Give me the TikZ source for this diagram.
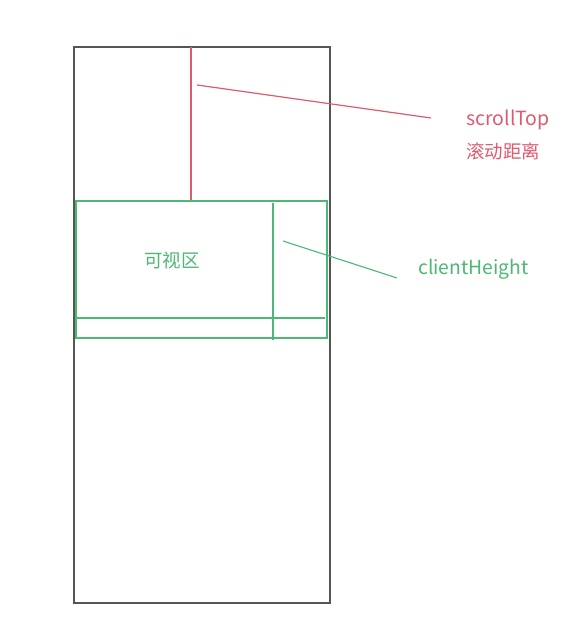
\documentclass[tikz,border=0pt]{standalone}
\usepackage{fontspec}
\setmainfont{Noto Sans CJK SC}
\definecolor{rc}{HTML}{E05A6E}
\definecolor{gc}{HTML}{4DB873}
\definecolor{fc}{HTML}{555555}
\begin{document}
\begin{tikzpicture}[x=1pt,y=-1pt,
  frame/.style={draw=fc,line width=1.2pt},
  redline/.style={draw=rc,line width=1.2pt},
  greenline/.style={draw=gc,line width=1.1pt},
  lbl/.style={inner sep=0pt,anchor=west},
]
\useasboundingbox (0,0) rectangle (567,631);
\fill[white] (0,0) rectangle (567,631);
% outer document
\draw[frame] (74,47) rectangle (330,603);
% scroll distance
\coordinate (st0) at (191,47);
\coordinate (st1) at (191,201);
\draw[redline] (st0) -- (st1);
% viewport
\draw[greenline] (76,201) rectangle (327,338);
\coordinate (h0) at (76,318);
\coordinate (h1) at (325,318);
\draw[greenline] (h0) -- (h1);
\coordinate (v0) at (273,203);
\coordinate (v1) at (273,340);
\draw[greenline] (v0) -- (v1);
\node[text=gc,inner sep=0pt,font=\fontsize{18.5}{22}\selectfont] (kv) at (172,260) {可视区};
% labels
\node[lbl,text=rc,font=\fontsize{19.5}{22}\selectfont] (stl) at (466,120) {scrollTop};
\node[lbl,text=rc,font=\fontsize{18.5}{22}\selectfont] (std) at (466,151) {滚动距离};
\node[lbl,text=gc,font=\fontsize{19.3}{22}\selectfont] (chl) at (418,269) {clientHeight};
\coordinate (ra) at (197,85);
\coordinate (rb) at (431,118);
\draw[redline] (ra) -- (rb);
\coordinate (ga) at (283,241);
\coordinate (gb) at (397,278);
\draw[greenline] (ga) -- (gb);
\end{tikzpicture}
\end{document}
